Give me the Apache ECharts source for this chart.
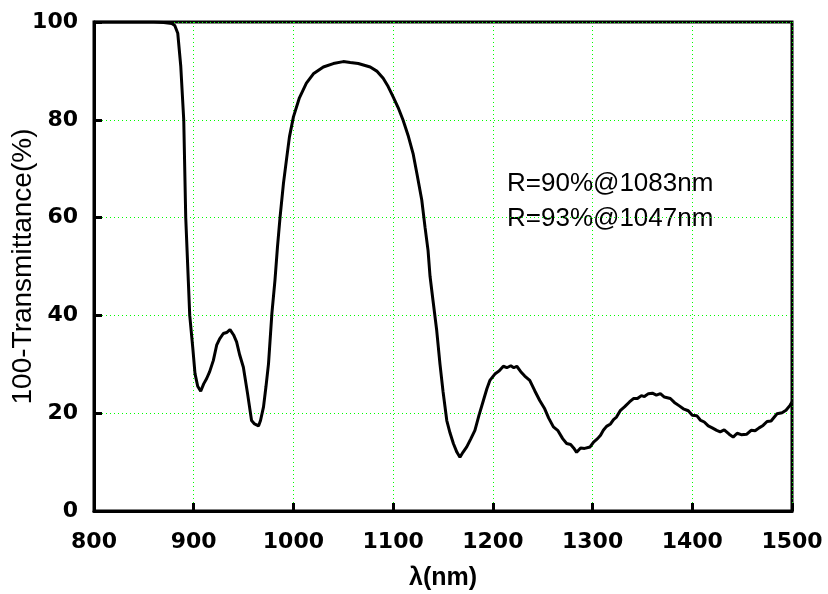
<!DOCTYPE html>
<html>
<head>
<meta charset="utf-8">
<script src="https://cdn.jsdelivr.net/npm/echarts@6/dist/echarts.min.js"></script>
<style>html,body{margin:0;padding:0;background:#fff}#c{width:828px;height:594px}</style>
</head>
<body>
<div id="c"></div>
<script>
const wavelength = [800,820,840,860,870,878,881,884,887,890,892,894.6,896,899,901.3,904,907,910,913,916,919.7,923,926,929.7,933,936.4,940,943,946,949.8,954,958,961,965,967,970,972.5,975,978.4,981.5,984,986.6,990,993,996,1000,1006,1013,1020,1030,1040,1050,1057,1065,1077,1084,1090,1095,1100,1105,1110,1115,1120,1124,1128.7,1132,1135,1137,1140,1143.7,1147,1150,1153.8,1157,1160.4,1164,1167,1170,1173.8,1178,1182,1186,1190.5,1194,1197,1202,1206,1210.5,1214,1218,1221,1224,1228,1232,1237,1242,1247,1252,1256,1260.7,1265,1270,1274,1278,1281,1284,1288,1292,1297.5,1301,1305,1308,1310.8,1314,1318,1321,1324,1328,1332,1337,1341,1345,1349,1352,1356,1360,1364,1368,1372,1378,1382,1387,1391,1396,1400,1404.5,1408,1412,1416,1420,1424.5,1428,1432,1437,1441,1445,1449,1454.7,1459,1463,1467,1471,1475,1479,1485,1490,1494,1498,1500];
const value100MinusT = [100,100,100,100,99.9,99.7,99.3,97.7,91,80,60,47,40,33.5,28.1,25.5,24.5,26,27.1,28.5,30.8,33.9,35.2,36.3,36.5,37.1,36,34.6,32,29.4,24,18.5,17.8,17.4,18.5,21.3,25.5,30.1,40.4,47.2,54,60.1,67,71.8,76.5,80.6,84.5,87.5,89.4,90.8,91.5,91.9,91.7,91.5,90.8,89.9,88.5,86.8,84.7,82.5,79.9,76.8,73.1,68.8,63.6,58,53.3,48,43,36.9,30,24.5,18.5,16,13.8,12,11.0,12,13.1,14.8,16.5,19.5,22.6,25,26.7,28,28.6,29.6,29.3,29.7,29.3,29.6,28.5,27.6,26.7,24.6,22.6,20.9,19.0,17.2,16.5,14.8,13.8,13.6,12.9,12.0,12.9,12.8,13.1,14.1,14.8,15.5,16.5,17.3,17.8,18.7,19.2,20.6,21.3,22.3,23.0,23.0,23.6,23.4,24.0,24.1,23.7,24.0,23.3,23.0,22.2,21.5,20.9,20.5,19.6,19.5,18.6,18.2,17.4,17.0,16.5,16.2,16.6,15.7,15.1,15.9,15.6,15.7,16.5,16.4,17.0,17.5,18.3,18.4,19.9,20.1,20.6,21.6,22.3];
const xTicks = [800, 1500, 100];
const yTicks = [0, 100, 20];
const xTitle = 'λ(nm)';
const yTitle = '100-Transmittance(%)';
const notes = ['R=90%@1083nm', 'R=93%@1047nm'];

const seriesData = wavelength.map((w, i) => [w, value100MinusT[i]]);
const tickFont = {fontFamily: 'DejaVu Sans', fontWeight: 'bold', fontSize: 22, color: '#000', formatter: v => String(v)};
const gridLine = {show: true, lineStyle: {color: '#00ff00', width: 1, type: [1, 3]}};

const chart = echarts.init(document.getElementById('c'), null, {renderer: 'canvas'});
chart.setOption({
  animation: false,
  backgroundColor: '#fff',
  grid: {left: 94, right: 36, top: 22, bottom: 83, containLabel: false, outerBoundsMode: 'none',
         show: true, borderColor: '#000', borderWidth: 3, backgroundColor: 'transparent'},
  xAxis: {
    type: 'value', min: xTicks[0], max: xTicks[1], interval: xTicks[2],
    name: xTitle, nameLocation: 'middle', nameGap: 55, nameMoveOverlap: false,
    nameTextStyle: {fontFamily: 'Liberation Sans', fontWeight: 'bold', fontSize: 25, color: '#000'},
    axisLine: {show: true, onZero: false, lineStyle: {color: '#000', width: 3}},
    axisTick: {show: true, inside: true, length: 8, lineStyle: {color: '#000', width: 3}},
    axisLabel: Object.assign({margin: 20}, tickFont),
    splitLine: gridLine
  },
  yAxis: {
    type: 'value', min: yTicks[0], max: yTicks[1], interval: yTicks[2],
    name: yTitle, nameLocation: 'middle', nameGap: 57, nameRotate: 90, nameMoveOverlap: false,
    nameTextStyle: {fontFamily: 'Liberation Sans', fontSize: 28, color: '#000'},
    axisLine: {show: true, onZero: false, lineStyle: {color: '#000', width: 3}},
    axisTick: {show: true, inside: true, length: 8, lineStyle: {color: '#000', width: 3}},
    axisLabel: Object.assign({margin: 16}, tickFont),
    splitLine: gridLine
  },
  series: [{
    type: 'line', data: seriesData, showSymbol: false, symbol: 'none',
    lineStyle: {color: '#000', width: 3}, smooth: false
  }],
  graphic: [
    {type: 'text', left: 507, top: 171, style: {text: notes[0], font: '26px "Liberation Sans"', fill: '#000'}},
    {type: 'text', left: 507, top: 206, style: {text: notes[1], font: '26px "Liberation Sans"', fill: '#000'}}
  ]
});
</script>
</body>
</html>
